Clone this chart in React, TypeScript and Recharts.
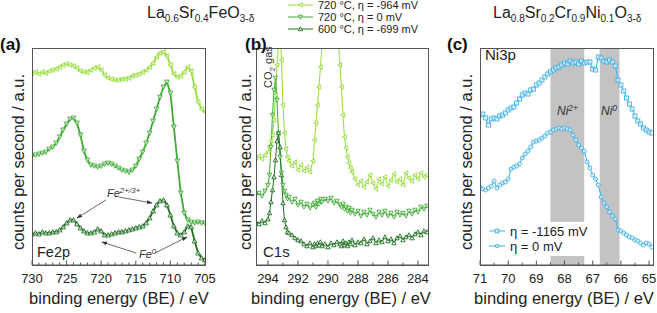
import React from 'react'
import { Line, LineChart, ReferenceArea, XAxis, YAxis } from 'recharts'

const FONT = '"Liberation Sans", Arial, sans-serif'

// Fe2p spectra (binding energy in eV, counts in a.u.)
const feEnergy = [
  730, 729.5, 729, 728.5, 728, 727.5, 727, 726.5, 726, 725.5, 725, 724.5, 724, 723.5, 723, 722.5, 722,
  721.5, 721, 720.5, 720, 719.5, 719, 718.5, 718, 717.5, 717, 716.5, 716, 715.5, 715, 714.5, 714, 713.5,
  713, 712.5, 712, 711.5, 711, 710.5, 710, 709.5, 709, 708.5, 708, 707.5, 707, 706.5, 706, 705.5, 705,
]
const feHigh = [
  192, 193, 191, 193, 192, 194, 195, 196, 198, 200, 201, 200, 199, 197, 194, 193, 193, 195, 197, 198, 195,
  190, 187, 186, 185, 185, 186, 186, 187, 189, 190, 191, 193, 195, 198, 202, 208, 212, 213, 209, 200, 191,
  188, 189, 193, 198, 194, 178, 163, 156, 153,
]
const feMid = [
  109, 110, 111, 112, 113, 116, 118, 122, 128, 135, 141, 146, 147, 142, 130, 114, 105, 100, 99, 98, 99,
  101, 102, 101, 99, 97, 95, 94, 93, 95, 99, 106, 113, 122, 132, 144, 156, 168, 178, 183, 172, 138, 104,
  72, 52, 45, 43, 42, 43, 42, 42,
]
const feLow = [
  31, 32, 31, 33, 32, 32, 33, 33, 35, 38, 42, 45, 45, 41, 37, 34, 32, 32, 33, 36, 34, 30, 30, 31, 32, 33,
  33, 34, 35, 36, 37, 38, 39, 42, 47, 54, 60, 64, 65, 60, 50, 39, 32, 30, 33, 39, 38, 24, 12, 7, 5,
]

// C1s spectra
const cEnergy = [
  294.8, 294.6, 294.4, 294.2, 294.0, 293.9, 293.8, 293.7, 293.6, 293.5, 293.4, 293.3, 293.2, 293.1, 293.0,
  292.9, 292.8, 292.7, 292.6, 292.4, 292.2, 292.0, 291.8, 291.6, 291.4, 291.2, 291.0, 290.9, 290.8, 290.7,
  290.6, 290.5, 290.4, 290.2, 290.0, 289.8, 289.6, 289.4, 289.2, 289.1, 289.0, 288.9, 288.8, 288.7, 288.6,
  288.5, 288.4, 288.2, 288.0, 287.8, 287.6, 287.4, 287.2, 287.0, 286.8, 286.6, 286.4, 286.2, 286.0, 285.8,
  285.6, 285.4, 285.2, 285.0, 284.8, 284.6, 284.4, 284.2, 284.0, 283.8, 283.6, 283.4,
]
const cHigh = [
  107, 109, 106, 110, 113, 118, 124, 130, 145, 170, 200, 222, 238, 205, 160, 132, 116, 108, 104, 99, 103,
  95, 100, 94, 98, 93, 104, 125, 142, 160, 178, 198, 218, 250, 270, 280, 275, 245, 200, 178, 150, 128,
  117, 108, 102, 97, 93, 86, 80, 84, 78, 83, 90, 82, 76, 86, 81, 88, 79, 85, 91, 83, 86, 80, 92, 87, 84,
  90, 86, 92, 88, 90,
]
const cMid = [
  70, 72, 69, 74, 80, 90, 118, 150, 175, 187, 165, 132, 108, 92, 80, 74, 70, 66, 68, 63, 66, 60, 63, 58,
  61, 57, 60, 62, 58, 64, 61, 66, 63, 66, 64, 67, 62, 64, 60, 58, 61, 56, 58, 54, 57, 52, 55, 51, 54, 49,
  53, 50, 55, 51, 48, 53, 50, 54, 49, 52, 48, 53, 50, 52, 49, 54, 51, 55, 53, 58, 56, 59,
]
const cLow = [
  43, 41, 44, 42, 46, 52, 63, 75, 88, 105, 124, 132, 118, 90, 62, 45, 38, 33, 32, 30, 27, 25, 24, 21, 19,
  22, 18, 21, 19, 22, 20, 23, 19, 21, 18, 22, 20, 23, 21, 19, 24, 20, 22, 19, 23, 21, 25, 20, 23, 22, 26,
  21, 24, 27, 22, 25, 23, 28, 24, 26, 22, 27, 29, 25, 28, 30, 27, 31, 33, 30, 34, 33,
]

// Ni3p spectra
const niEnergy = [
  71.0, 70.9, 70.8, 70.7, 70.6, 70.5, 70.4, 70.3, 70.2, 70.1, 70.0, 69.9, 69.8, 69.7, 69.6, 69.5, 69.4,
  69.3, 69.2, 69.1, 69.0, 68.9, 68.8, 68.7, 68.6, 68.5, 68.4, 68.3, 68.2, 68.1, 68.0, 67.9, 67.8, 67.7,
  67.6, 67.5, 67.4, 67.3, 67.2, 67.1, 67.0, 66.9, 66.8, 66.7, 66.6, 66.5, 66.4, 66.3, 66.2, 66.1, 66.0,
  65.9, 65.8, 65.7, 65.6, 65.5, 65.4, 65.3, 65.2, 65.1, 65.0, 64.9,
]
const niReduced = [
  150, 151, 147, 140, 146, 147, 146, 149, 150, 152, 155, 157, 158, 162, 166, 170, 172, 171, 175, 176, 180,
  182, 185, 188, 191, 193, 195, 197, 198, 200, 202, 201, 204, 202, 203, 201, 204, 202, 203, 203, 196, 195,
  208, 207, 204, 203, 205, 203, 199, 185, 180, 174, 167, 161, 156, 149, 144, 141, 137, 135, 133, 132,
]
const niZero = [
  78, 76, 75, 77, 79, 84, 77, 80, 82, 83, 86, 96, 98, 99, 101, 107, 111, 114, 118, 123, 124, 125, 127, 129,
  132, 133, 135, 136, 137, 136, 137, 136, 135, 130, 125, 120, 117, 114, 103, 97, 90, 86, 80, 68, 62, 58,
  53, 49, 46, 35, 34, 32, 30, 28, 27, 25, 24, 22, 20, 22, 21, 18,
]

const feTicks = [705, 706, 707, 708, 709, 710, 711, 712, 713, 714, 715, 716, 717, 718, 719, 720, 721, 722, 723, 724, 725, 726, 727, 728, 729, 730]
const feLabels = [705, 710, 715, 720, 725, 730]
const cTicks = [284, 285, 286, 287, 288, 289, 290, 291, 292, 293, 294]
const cLabels = [284, 286, 288, 290, 292, 294]
const niTicks = [65, 65.5, 66, 66.5, 67, 67.5, 68, 68.5, 69, 69.5, 70, 70.5, 71]
const niLabels = [65, 66, 67, 68, 69, 70, 71]

const GREEN_HI = '#96dc3c'
const GREEN_MID = '#3faa35'
const GREEN_LO = '#206f22'
const BLUE = '#3aaee8'
const FRAME = '#555'
const Y_DOMAIN = [0, 217]

const feData = feEnergy.map((e, i) => ({ e, high: feHigh[i], mid: feMid[i], low: feLow[i] }))
const cData = cEnergy.map((e, i) => ({ e, high: cHigh[i], mid: cMid[i], low: cLow[i] }))
const niData = niEnergy.map((e, i) => ({ e, red: niReduced[i], zero: niZero[i] }))

// ticks point inward, labels only on the major ones
function makeTick(labels: number[]) {
  return (props: any) => {
    const { x, y, payload } = props
    const major = labels.includes(payload.value)
    return (
      <g key={`t-${payload.value}`}>
        <line x1={x} x2={x} y1={y} y2={y - (major ? 4.5 : 2.5)} stroke={FRAME} strokeWidth={1} />
        {major && (
          <text x={x} y={y + 18} textAnchor="middle" fontSize={13} fill="#222" fontFamily={FONT}>
            {payload.value}
          </text>
        )}
      </g>
    )
  }
}

function marker(shape: string, size: number) {
  return (props: any) => {
    const { cx, cy, stroke, index } = props
    if (cx == null || cy == null) return <g key={index} />
    const s = size
    let el
    if (shape === 'square') {
      el = <rect x={cx - s} y={cy - s} width={2 * s} height={2 * s} />
    } else if (shape === 'circle') {
      el = <circle cx={cx} cy={cy} r={s} />
    } else {
      let pts = ''
      if (shape === 'up') pts = `${cx},${cy - s} ${cx - s},${cy + s * 0.8} ${cx + s},${cy + s * 0.8}`
      if (shape === 'down') pts = `${cx},${cy + s} ${cx - s},${cy - s * 0.8} ${cx + s},${cy - s * 0.8}`
      if (shape === 'left') pts = `${cx - s},${cy} ${cx + s * 0.8},${cy - s} ${cx + s * 0.8},${cy + s}`
      el = <polygon points={pts} />
    }
    return (
      <g key={index} fill="#fff" fillOpacity={0.6} stroke={stroke} strokeWidth={0.9}>
        {el}
      </g>
    )
  }
}

// bottom axis with inward ticks
function axes(domain: number[], ticks: number[], labels: number[]) {
  return [
    <XAxis
      key="xb"
      dataKey="e"
      type="number"
      domain={domain}
      allowDataOverflow
      reversed
      ticks={ticks}
      interval={0}
      height={1}
      tickSize={0}
      tickMargin={0}
      tickLine={false}
      tick={makeTick(labels)}
      axisLine={{ stroke: FRAME }}
    />,
    <YAxis key="yl" domain={Y_DOMAIN} allowDataOverflow hide />,
  ]
}

const layer: React.CSSProperties = { position: 'absolute', left: 0, top: 0 }

const feDomain = [705, 730]
const cDomain = [283.33, 294.8]
const niDomain = [64.86, 71]

// plot boxes (page pixels) for the three panels
const boxes = [
  { x: 32, w: 173 },
  { x: 256, w: 172 },
  { x: 480, w: 173 },
]

export default function App() {
  return (
    <div style={{ position: 'absolute', left: 0, top: 0, width: 657, height: 313, background: '#fff', fontFamily: FONT }}>
      {/* (a) Fe2p */}
      <div style={layer}>
        <LineChart width={657} height={313} data={feData} margin={{ top: 48, left: 32, right: 452, bottom: 47 }}>
          {axes(feDomain, feTicks, feLabels)}
          <Line dataKey="high" stroke={GREEN_HI} strokeWidth={1.8} dot={marker('left', 2.4)} isAnimationActive={false} />
          <Line dataKey="mid" stroke={GREEN_MID} strokeWidth={1.8} dot={marker('down', 2.4)} isAnimationActive={false} />
          <Line dataKey="low" stroke={GREEN_LO} strokeWidth={1.8} dot={marker('up', 2.4)} isAnimationActive={false} />
        </LineChart>
      </div>

      {/* (b) C1s */}
      <div style={layer}>
        <LineChart width={657} height={313} data={cData} margin={{ top: 48, left: 256, right: 229, bottom: 47 }}>
          {axes(cDomain, cTicks, cLabels)}
          <Line dataKey="high" stroke={GREEN_HI} strokeWidth={1} dot={marker('left', 2.2)} isAnimationActive={false} />
          <Line dataKey="mid" stroke={GREEN_MID} strokeWidth={1} dot={marker('down', 2.2)} isAnimationActive={false} />
          <Line dataKey="low" stroke={GREEN_LO} strokeWidth={1} dot={marker('up', 2.2)} isAnimationActive={false} />
        </LineChart>
      </div>

      {/* (c) Ni3p */}
      <div style={layer}>
        <LineChart width={657} height={313} data={niData} margin={{ top: 48, left: 480, right: 4, bottom: 47 }}>
          <ReferenceArea x1={68.5} x2={67.3} fill="#c3c3c3" fillOpacity={1} stroke="none" ifOverflow="hidden" />
          <ReferenceArea x1={66.75} x2={66.05} fill="#c3c3c3" fillOpacity={1} stroke="none" ifOverflow="hidden" />
          {axes(niDomain, niTicks, niLabels)}
          <Line dataKey="red" stroke={BLUE} strokeWidth={1} dot={marker('square', 2)} isAnimationActive={false} />
          <Line dataKey="zero" stroke={BLUE} strokeWidth={1} dot={marker('circle', 2)} isAnimationActive={false} />
        </LineChart>
      </div>

      {/* Ni3p legend box */}
      <div style={{ position: 'absolute', left: 481, top: 222, width: 112, height: 34, background: '#fff' }} />

      <svg width={657} height={313} style={{ position: 'absolute', left: 0, top: 0, pointerEvents: 'none' }} fontFamily={FONT}>
        <defs>
          <marker id="arr" viewBox="0 0 10 10" refX="9" refY="5" markerWidth="7" markerHeight="7" orient="auto-start-reverse">
            <path d="M0,1.5 L10,5 L0,8.5 z" fill="#333" />
          </marker>
        </defs>

        {boxes.map((b) => (
          <rect key={b.x} x={b.x + 0.5} y={48.5} width={b.w} height={217} fill="none" stroke={FRAME} strokeWidth={1} />
        ))}

        {/* titles */}
        <text x={147} y={18} fontSize={16} fill="#222">
          La<tspan fontSize={10} dy={4}>0.6</tspan>
          <tspan dy={-4}>Sr</tspan>
          <tspan fontSize={10} dy={4}>0.4</tspan>
          <tspan dy={-4}>FeO</tspan>
          <tspan fontSize={10} dy={4}>3-δ</tspan>
        </text>
        <text x={493} y={18} fontSize={16} fill="#222">
          La<tspan fontSize={10} dy={4}>0.8</tspan>
          <tspan dy={-4}>Sr</tspan>
          <tspan fontSize={10} dy={4}>0.2</tspan>
          <tspan dy={-4}>Cr</tspan>
          <tspan fontSize={10} dy={4}>0.9</tspan>
          <tspan dy={-4}>Ni</tspan>
          <tspan fontSize={10} dy={4}>0.1</tspan>
          <tspan dy={-4}>O</tspan>
          <tspan fontSize={10} dy={4}>3-δ</tspan>
        </text>

        {/* legend (b) */}
        {[
          { c: GREEN_HI, t: '720 °C, η = -964 mV', s: 'left' },
          { c: GREEN_MID, t: '720 °C, η = 0 mV', s: 'down' },
          { c: GREEN_LO, t: '600 °C, η = -699 mV', s: 'up' },
        ].map((r, i) => (
          <g key={r.t}>
            <line x1={288} x2={313} y1={5 + i * 12} y2={5 + i * 12} stroke={r.c} strokeWidth={1} />
            {marker(r.s, 2.2)({ cx: 300.5, cy: 5 + i * 12, stroke: r.c, index: i })}
            <text x={318} y={9 + i * 12} fontSize={11} fill="#222">
              {r.t}
            </text>
          </g>
        ))}

        {/* legend (c) */}
        {[
          { t: 'η = -1165 mV', s: 'square' },
          { t: 'η = 0 mV', s: 'circle' },
        ].map((r, i) => (
          <g key={r.t}>
            <line x1={489} x2={505} y1={231 + i * 15} y2={231 + i * 15} stroke={BLUE} strokeWidth={1} />
            {marker(r.s, 1.8)({ cx: 497, cy: 231 + i * 15, stroke: BLUE, index: i })}
            <text x={510} y={235.5 + i * 15} fontSize={13} fill="#222">
              {r.t}
            </text>
          </g>
        ))}

        {/* panel labels */}
        <text x={0} y={50} fontSize={17} fontWeight="bold" fill="#111">(a)</text>
        <text x={245} y={50} fontSize={17} fontWeight="bold" fill="#111">(b)</text>
        <text x={447} y={50} fontSize={17} fontWeight="bold" fill="#111">(c)</text>

        {/* axis titles */}
        {[119, 341, 564].map((cx) => (
          <text key={cx} x={cx} y={304} fontSize={16.5} textAnchor="middle" fill="#222">
            binding energy (BE) / eV
          </text>
        ))}
        {[18, 245, 466].map((cx) => (
          <text
            key={cx}
            transform={`translate(${cx},162) rotate(-90)`}
            fontSize={16.5}
            textAnchor="middle"
            dominantBaseline="central"
            fill="#222"
          >
            counts per second / a.u.
          </text>
        ))}

        {/* annotations (a) */}
        <text x={37} y={257} fontSize={14.5} fill="#222">Fe2p</text>
        <text x={107} y={197} fontSize={11} fontStyle="italic" fill="#333">
          Fe<tspan fontSize={8} dy={-4}>2+/3+</tspan>
        </text>
        <text x={139} y={258} fontSize={11} fontStyle="italic" fill="#333">
          Fe<tspan fontSize={8} dy={-4}>0</tspan>
        </text>
        <line x1={106} y1={200} x2={77} y2={218} stroke="#444" strokeWidth={0.8} markerEnd="url(#arr)" />
        <line x1={119} y1={197} x2={152} y2={203} stroke="#444" strokeWidth={0.8} markerEnd="url(#arr)" />
        <line x1={136} y1={253} x2={102} y2={242} stroke="#444" strokeWidth={0.8} markerEnd="url(#arr)" />
        <line x1={155} y1={253} x2={187} y2={237} stroke="#444" strokeWidth={0.8} markerEnd="url(#arr)" />

        {/* annotations (b) */}
        <text x={263} y={257} fontSize={15} fill="#222">C1s</text>
        <text transform="translate(272,88) rotate(-90)" fontSize={11} fill="#333">
          CO<tspan fontSize={8} dy={3}>2</tspan>
          <tspan dy={-3}> gas</tspan>
        </text>

        {/* annotations (c) */}
        <text x={485} y={60} fontSize={15} fill="#222">Ni3p</text>
        <text x={557} y={115} fontSize={12} fontStyle="italic" fill="#333">
          Ni<tspan fontSize={8.5} dy={-4}>2+</tspan>
        </text>
        <text x={601} y={115} fontSize={12} fontStyle="italic" fill="#333">
          Ni<tspan fontSize={8.5} dy={-4}>0</tspan>
        </text>
      </svg>
    </div>
  )
}
